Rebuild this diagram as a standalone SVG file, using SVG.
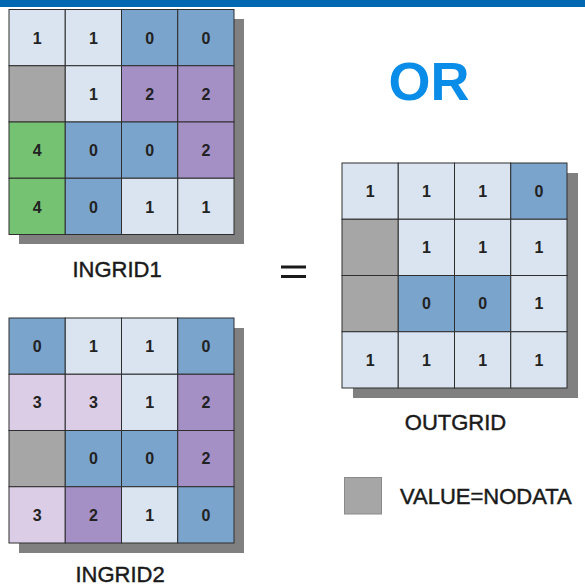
<svg xmlns="http://www.w3.org/2000/svg" width="585" height="587" viewBox="0 0 585 587">
<style>
.bg{fill:#ffffff}
.bar{fill:#0067b1}
.shadow{fill:#808080}
.c{stroke:#2e2e2e;stroke-width:1}
.L{fill:#d9e4f0}
.B{fill:#7ba4cc}
.P{fill:#a590c5}
.Q{fill:#dccde6}
.G{fill:#74c272}
.N{fill:#a6a6a6}
.v{font-family:"Liberation Sans",Arial,sans-serif;font-size:16px;font-weight:bold;fill:#222222;text-anchor:middle}
.lbl{font-family:"Liberation Sans",Arial,sans-serif;font-size:22px;fill:#1a1a1a;stroke:#1a1a1a;stroke-width:0.45;text-anchor:middle}
.or{font-family:"Liberation Sans",Arial,sans-serif;font-size:54px;font-weight:bold;fill:#0a8de8;text-anchor:middle}
</style>
<rect class="bg" x="0" y="0" width="585" height="587"/>
<rect class="bar" x="0" y="0" width="585" height="7"/>
<text class="or" x="429" y="100">OR</text>

<g id="ingrid1">
<rect class="shadow" x="19" y="19" width="225" height="225"/>
<g transform="translate(9,9.5)">
<rect class="c L" x="0" y="0" width="56.25" height="56.25"/>
<rect class="c L" x="56.25" y="0" width="56.25" height="56.25"/>
<rect class="c B" x="112.5" y="0" width="56.25" height="56.25"/>
<rect class="c B" x="168.75" y="0" width="56.25" height="56.25"/>
<rect class="c N" x="0" y="56.25" width="56.25" height="56.25"/>
<rect class="c L" x="56.25" y="56.25" width="56.25" height="56.25"/>
<rect class="c P" x="112.5" y="56.25" width="56.25" height="56.25"/>
<rect class="c P" x="168.75" y="56.25" width="56.25" height="56.25"/>
<rect class="c G" x="0" y="112.5" width="56.25" height="56.25"/>
<rect class="c B" x="56.25" y="112.5" width="56.25" height="56.25"/>
<rect class="c B" x="112.5" y="112.5" width="56.25" height="56.25"/>
<rect class="c P" x="168.75" y="112.5" width="56.25" height="56.25"/>
<rect class="c G" x="0" y="168.75" width="56.25" height="56.25"/>
<rect class="c B" x="56.25" y="168.75" width="56.25" height="56.25"/>
<rect class="c L" x="112.5" y="168.75" width="56.25" height="56.25"/>
<rect class="c L" x="168.75" y="168.75" width="56.25" height="56.25"/>
<text class="v" x="28.1" y="34">1</text>
<text class="v" x="84.4" y="34">1</text>
<text class="v" x="140.6" y="34">0</text>
<text class="v" x="196.9" y="34">0</text>
<text class="v" x="84.4" y="90">1</text>
<text class="v" x="140.6" y="90">2</text>
<text class="v" x="196.9" y="90">2</text>
<text class="v" x="28.1" y="146">4</text>
<text class="v" x="84.4" y="146">0</text>
<text class="v" x="140.6" y="146">0</text>
<text class="v" x="196.9" y="146">2</text>
<text class="v" x="28.1" y="203">4</text>
<text class="v" x="84.4" y="203">0</text>
<text class="v" x="140.6" y="203">1</text>
<text class="v" x="196.9" y="203">1</text>
</g>
<text class="lbl" x="117" y="277">INGRID1</text>
</g>

<g id="ingrid2">
<rect class="shadow" x="19" y="328" width="225" height="225"/>
<g transform="translate(9,318)">
<rect class="c B" x="0" y="0" width="56.25" height="56.25"/>
<rect class="c L" x="56.25" y="0" width="56.25" height="56.25"/>
<rect class="c L" x="112.5" y="0" width="56.25" height="56.25"/>
<rect class="c B" x="168.75" y="0" width="56.25" height="56.25"/>
<rect class="c Q" x="0" y="56.25" width="56.25" height="56.25"/>
<rect class="c Q" x="56.25" y="56.25" width="56.25" height="56.25"/>
<rect class="c L" x="112.5" y="56.25" width="56.25" height="56.25"/>
<rect class="c P" x="168.75" y="56.25" width="56.25" height="56.25"/>
<rect class="c N" x="0" y="112.5" width="56.25" height="56.25"/>
<rect class="c B" x="56.25" y="112.5" width="56.25" height="56.25"/>
<rect class="c B" x="112.5" y="112.5" width="56.25" height="56.25"/>
<rect class="c P" x="168.75" y="112.5" width="56.25" height="56.25"/>
<rect class="c Q" x="0" y="168.75" width="56.25" height="56.25"/>
<rect class="c P" x="56.25" y="168.75" width="56.25" height="56.25"/>
<rect class="c L" x="112.5" y="168.75" width="56.25" height="56.25"/>
<rect class="c B" x="168.75" y="168.75" width="56.25" height="56.25"/>
<text class="v" x="28.1" y="34">0</text>
<text class="v" x="84.4" y="34">1</text>
<text class="v" x="140.6" y="34">1</text>
<text class="v" x="196.9" y="34">0</text>
<text class="v" x="28.1" y="90">3</text>
<text class="v" x="84.4" y="90">3</text>
<text class="v" x="140.6" y="90">1</text>
<text class="v" x="196.9" y="90">2</text>
<text class="v" x="84.4" y="146">0</text>
<text class="v" x="140.6" y="146">0</text>
<text class="v" x="196.9" y="146">2</text>
<text class="v" x="28.1" y="203">3</text>
<text class="v" x="84.4" y="203">2</text>
<text class="v" x="140.6" y="203">1</text>
<text class="v" x="196.9" y="203">0</text>
</g>
<text class="lbl" x="120" y="582">INGRID2</text>
</g>

<g id="equals">
<rect x="281" y="265.5" width="25" height="3" fill="#1a1a1a"/>
<rect x="281" y="275" width="25" height="3" fill="#1a1a1a"/>
</g>

<g id="outgrid">
<rect class="shadow" x="353" y="173" width="225" height="225"/>
<g transform="translate(342,163)">
<rect class="c L" x="0" y="0" width="56.25" height="56.25"/>
<rect class="c L" x="56.25" y="0" width="56.25" height="56.25"/>
<rect class="c L" x="112.5" y="0" width="56.25" height="56.25"/>
<rect class="c B" x="168.75" y="0" width="56.25" height="56.25"/>
<rect class="c N" x="0" y="56.25" width="56.25" height="56.25"/>
<rect class="c L" x="56.25" y="56.25" width="56.25" height="56.25"/>
<rect class="c L" x="112.5" y="56.25" width="56.25" height="56.25"/>
<rect class="c L" x="168.75" y="56.25" width="56.25" height="56.25"/>
<rect class="c N" x="0" y="112.5" width="56.25" height="56.25"/>
<rect class="c B" x="56.25" y="112.5" width="56.25" height="56.25"/>
<rect class="c B" x="112.5" y="112.5" width="56.25" height="56.25"/>
<rect class="c L" x="168.75" y="112.5" width="56.25" height="56.25"/>
<rect class="c L" x="0" y="168.75" width="56.25" height="56.25"/>
<rect class="c L" x="56.25" y="168.75" width="56.25" height="56.25"/>
<rect class="c L" x="112.5" y="168.75" width="56.25" height="56.25"/>
<rect class="c L" x="168.75" y="168.75" width="56.25" height="56.25"/>
<text class="v" x="28.1" y="34">1</text>
<text class="v" x="84.4" y="34">1</text>
<text class="v" x="140.6" y="34">1</text>
<text class="v" x="196.9" y="34">0</text>
<text class="v" x="84.4" y="90">1</text>
<text class="v" x="140.6" y="90">1</text>
<text class="v" x="196.9" y="90">1</text>
<text class="v" x="84.4" y="146">0</text>
<text class="v" x="140.6" y="146">0</text>
<text class="v" x="196.9" y="146">1</text>
<text class="v" x="28.1" y="203">1</text>
<text class="v" x="84.4" y="203">1</text>
<text class="v" x="140.6" y="203">1</text>
<text class="v" x="196.9" y="203">1</text>
</g>
<text class="lbl" x="455.5" y="430">OUTGRID</text>
</g>

<g id="legend">
<rect x="344.5" y="477.5" width="37" height="36.5" fill="#a6a6a6" stroke="#8a8a8a" stroke-width="1"/>
<text class="lbl" x="400" y="504" style="text-anchor:start">VALUE=NODATA</text>
</g>
</svg>
